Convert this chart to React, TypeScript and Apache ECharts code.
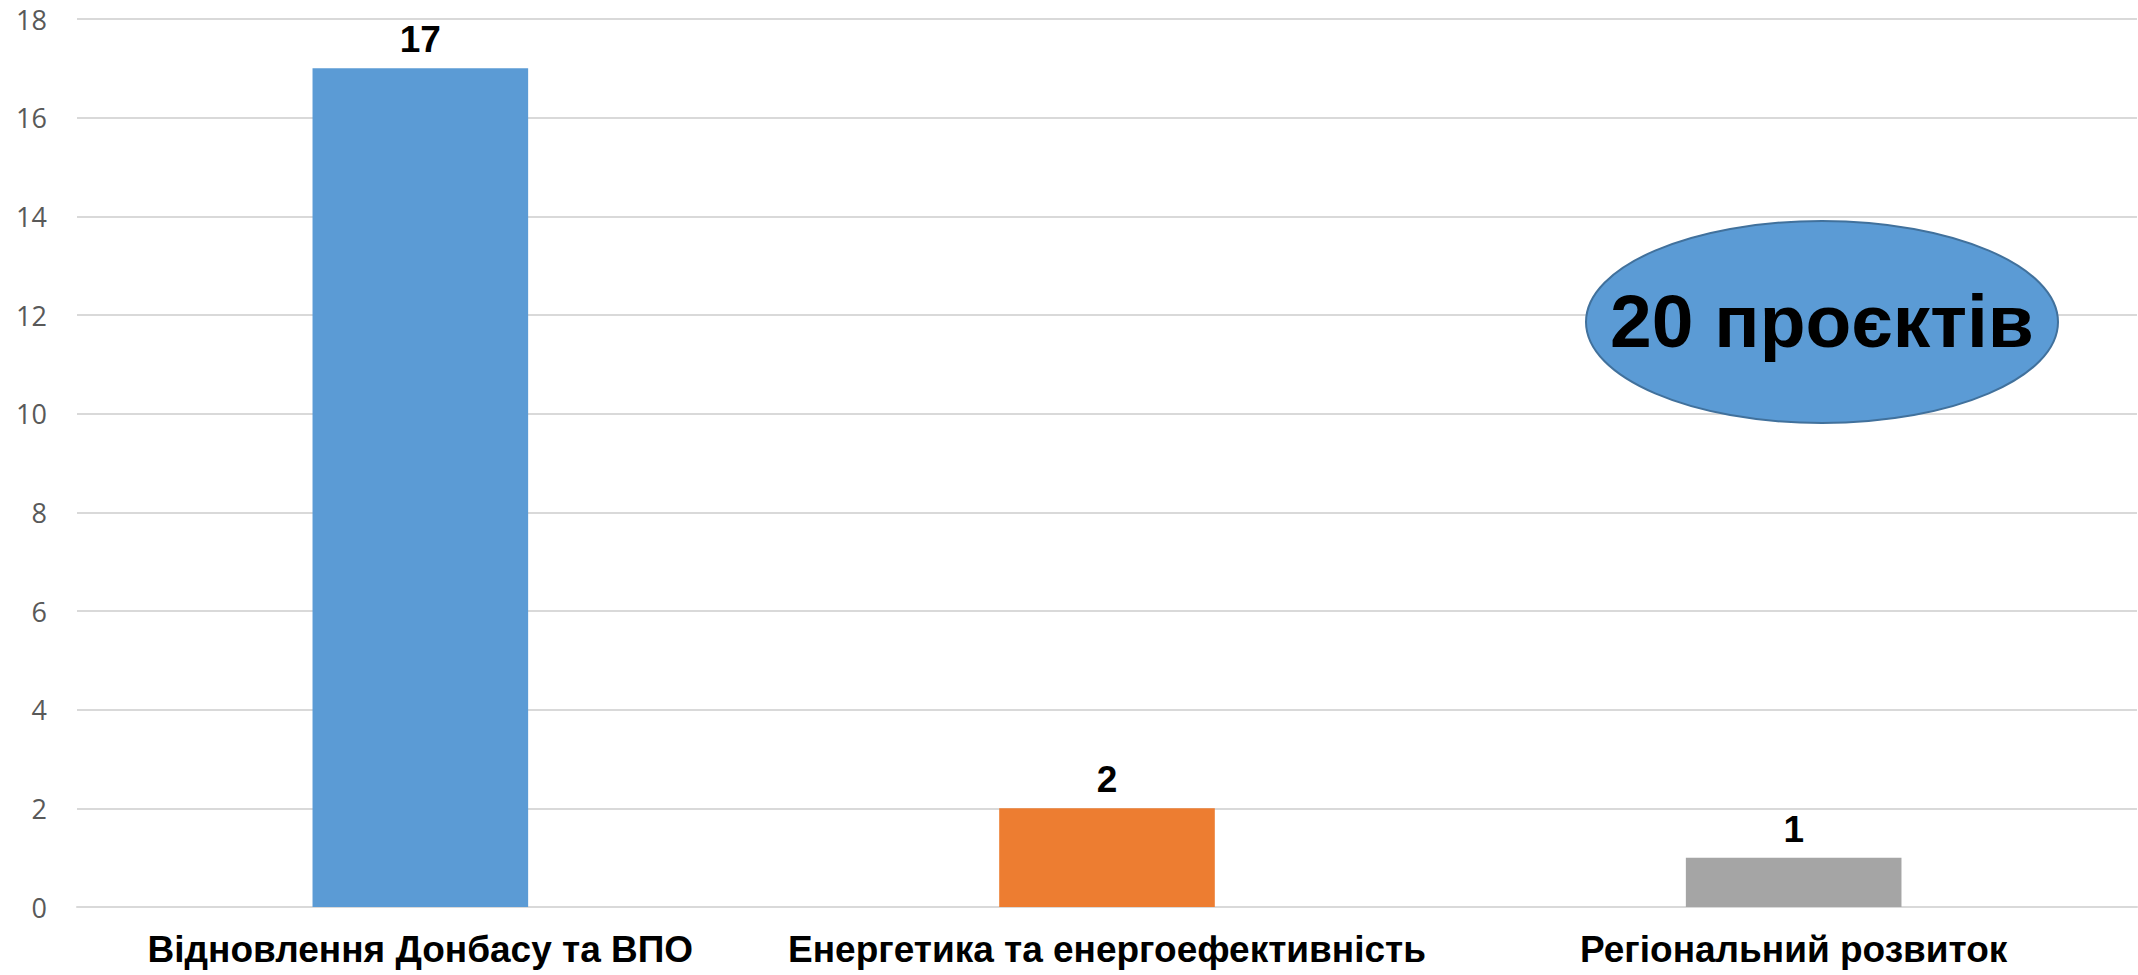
import React, { useEffect, useRef } from "react";
import * as echarts from "echarts";

const categories = [
  "Відновлення Донбасу та ВПО",
  "Енергетика та енергоефективність",
  "Регіональний розвиток",
];
const values = [17, 2, 1];
const barColors = ["#5B9BD5", "#ED7D31", "#A5A5A5"];
const yTicks = { min: 0, max: 18, interval: 2 };
const badgeText = "20 проєктів";

export default function App() {
  const ref = useRef<HTMLDivElement>(null);
  useEffect(() => {
    document.body.style.margin = "0";
    if (!ref.current) return;
    const chart = echarts.init(ref.current, undefined, { renderer: "svg" });
    chart.setOption({
      animation: false,
      backgroundColor: "#ffffff",
      grid: { left: 77, right: 1, top: 19, bottom: 68, containLabel: false },
      xAxis: {
        type: "category",
        data: categories,
        axisLine: { show: true, lineStyle: { color: "#D9D9D9", width: 2 } },
        axisTick: { show: false },
        axisLabel: {
          color: "#000000",
          fontFamily: "'Liberation Sans', Arial, sans-serif",
          fontWeight: "bold",
          fontSize: 37,
          margin: 24,
          interval: 0,
        },
      },
      yAxis: {
        type: "value",
        min: yTicks.min,
        max: yTicks.max,
        interval: yTicks.interval,
        axisLine: { show: false },
        axisTick: { show: false },
        splitLine: { lineStyle: { color: "#D9D9D9", width: 2 } },
        axisLabel: {
          color: "#595959",
          fontFamily: "'Open Sans', sans-serif",
          fontSize: 27,
          margin: 30,
        },
      },
      series: [
        {
          type: "bar",
          barWidth: "31.4%",
          data: values.map((v, i) => ({ value: v, itemStyle: { color: barColors[i] } })),
          label: {
            show: true,
            position: "top",
            distance: 10,
            color: "#000000",
            fontFamily: "'Liberation Sans', Arial, sans-serif",
            fontWeight: "bold",
            fontSize: 37,
          },
        },
      ],
      graphic: [
        {
          type: "ellipse",
          shape: { cx: 1822, cy: 322, rx: 236, ry: 101 },
          style: { fill: "#5B9BD5", stroke: "#41719C", lineWidth: 2 },
          z: 10,
        },
        {
          type: "text",
          x: 1822,
          y: 321,
          z: 11,
          style: {
            text: badgeText,
            fill: "#000000",
            font: "bold 75px 'Liberation Sans', Arial, sans-serif",
            align: "center",
            verticalAlign: "middle",
          },
        },
      ],
    });
    return () => chart.dispose();
  }, []);
  return <div ref={ref} style={{ width: 2138, height: 975 }} />;
}
